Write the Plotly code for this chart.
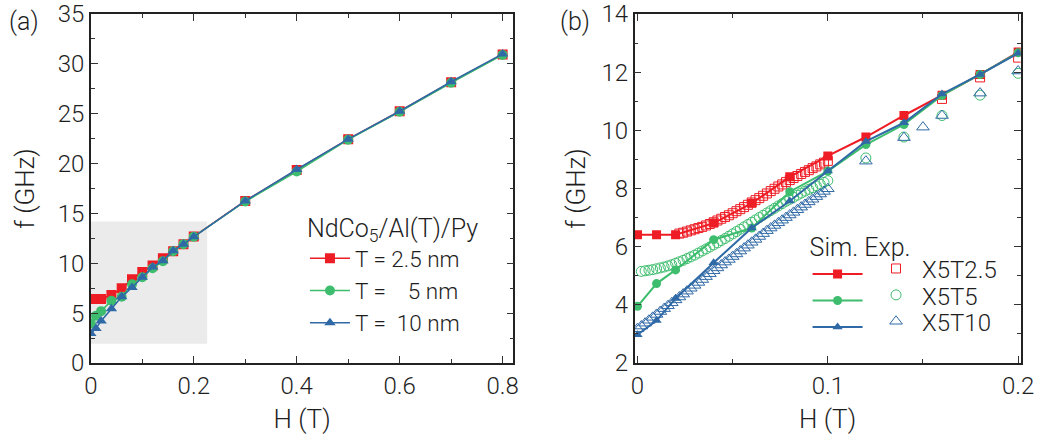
import plotly.graph_objects as go

# ---------------- data ----------------
# simulation (both panels)
H_sim = [0.0, 0.01, 0.02, 0.04, 0.06, 0.08, 0.10, 0.12, 0.14, 0.16, 0.18, 0.20,
         0.3, 0.4, 0.5, 0.6, 0.7, 0.8]
f_sim_T2p5 = [6.41, 6.41, 6.41, 6.81, 7.49, 8.40, 9.12, 9.77, 10.51, 11.21, 11.92, 12.69,
              16.25, 19.35, 22.45, 25.25, 28.15, 30.95]
f_sim_T5 = [3.95, 4.73, 5.20, 6.24, 6.64, 7.89, 8.60, 9.51, 10.20, 11.20, 11.92, 12.67,
            16.20, 19.20, 22.40, 25.20, 28.10, 30.90]
f_sim_T10 = [2.97, 3.46, 4.22, 5.45, 6.64, 7.57, 8.60, 9.62, 10.26, 11.25, 11.92, 12.65,
             16.25, 19.40, 22.45, 25.25, 28.20, 31.00]
N_B = 12  # points shown in panel (b), H <= 0.2 T

# experiment (panel b)
H_exp_T2p5 = [0.022, 0.024, 0.026, 0.028, 0.030, 0.032, 0.034, 0.036, 0.038, 0.040,
              0.042, 0.044, 0.046, 0.048, 0.050, 0.052, 0.054, 0.056, 0.058, 0.060,
              0.062, 0.064, 0.066, 0.068, 0.070, 0.072, 0.074, 0.076, 0.078, 0.080,
              0.082, 0.084, 0.086, 0.088, 0.090, 0.092, 0.094, 0.096, 0.098, 0.100,
              0.16, 0.18, 0.20]
f_exp_T2p5 = [6.45, 6.48, 6.52, 6.56, 6.60, 6.64, 6.68, 6.73, 6.78, 6.84,
              6.90, 6.96, 7.02, 7.08, 7.15, 7.22, 7.29, 7.36, 7.44, 7.52,
              7.60, 7.67, 7.75, 7.83, 7.91, 7.99, 8.07, 8.14, 8.22, 8.29,
              8.36, 8.43, 8.50, 8.57, 8.63, 8.70, 8.76, 8.83, 8.89, 8.95,
              11.08, 11.82, 12.50]

H_exp_T5 = [0.002, 0.004, 0.006, 0.008, 0.010, 0.012, 0.014, 0.016, 0.018, 0.020,
            0.022, 0.024, 0.026, 0.028, 0.030, 0.032, 0.034, 0.036, 0.038, 0.040,
            0.042, 0.044, 0.046, 0.048, 0.050, 0.052, 0.054, 0.056, 0.058, 0.060,
            0.062, 0.064, 0.066, 0.068, 0.070, 0.072, 0.074, 0.076, 0.078, 0.080,
            0.082, 0.084, 0.086, 0.088, 0.090, 0.092, 0.094, 0.096, 0.098, 0.100,
            0.12, 0.14, 0.16, 0.18, 0.20]
f_exp_T5 = [5.15, 5.17, 5.19, 5.21, 5.24, 5.27, 5.30, 5.34, 5.38, 5.43,
            5.48, 5.53, 5.59, 5.65, 5.71, 5.78, 5.85, 5.92, 5.99, 6.06,
            6.13, 6.21, 6.28, 6.36, 6.44, 6.52, 6.60, 6.68, 6.76, 6.84,
            6.92, 7.00, 7.08, 7.16, 7.24, 7.32, 7.40, 7.48, 7.56, 7.63,
            7.70, 7.77, 7.84, 7.91, 7.97, 8.03, 8.09, 8.15, 8.21, 8.27,
            9.05, 9.77, 10.51, 11.21, 11.96]

H_exp_T10 = [0.000, 0.002, 0.004, 0.006, 0.008, 0.010, 0.012, 0.014, 0.016, 0.018,
             0.020, 0.022, 0.024, 0.026, 0.028, 0.030, 0.032, 0.034, 0.036, 0.038,
             0.040, 0.042, 0.044, 0.046, 0.048, 0.050, 0.052, 0.054, 0.056, 0.058,
             0.060, 0.062, 0.064, 0.066, 0.068, 0.070, 0.072, 0.074, 0.076, 0.078,
             0.080, 0.082, 0.084, 0.086, 0.088, 0.090, 0.092, 0.094, 0.096, 0.098,
             0.100, 0.12, 0.14, 0.15, 0.16, 0.18, 0.20]
f_exp_T10 = [3.18, 3.27, 3.37, 3.47, 3.57, 3.67, 3.77, 3.87, 3.97, 4.07,
             4.17, 4.27, 4.37, 4.47, 4.57, 4.67, 4.77, 4.87, 4.97, 5.07,
             5.17, 5.27, 5.37, 5.47, 5.56, 5.66, 5.75, 5.85, 5.95, 6.05,
             6.15, 6.25, 6.35, 6.45, 6.55, 6.64, 6.73, 6.82, 6.91, 7.00,
             7.09, 7.18, 7.27, 7.36, 7.45, 7.54, 7.63, 7.72, 7.81, 7.90,
             7.99, 8.94, 9.75, 10.11, 10.51, 11.28, 12.04]

legend_a_names = ["T = 2.5 nm", "T =\u00a0\u00a0\u00a0\u00a05 nm", "T =\u00a0\u00a010 nm"]
legend_b_names = ["X5T2.5", "X5T5", "X5T10"]
legend_b_rows = [0.266, 0.190, 0.116]   # paper y of the label rows in panel (b)

# highlighted region in panel (a)
box_H = [0.0, 0.226]
box_f = [1.93, 14.2]

# ---------------- style ----------------
RED = "#ee1c24"
GREEN = "#3dbd6d"
BLUE = "#2f69a6"
FONT = "Roboto, 'Liberation Sans', Arial, sans-serif"
TXT = "#1e1e1e"

fig = go.Figure()

sim_sets = [(f_sim_T2p5, RED, "square"), (f_sim_T5, GREEN, "circle"), (f_sim_T10, BLUE, "triangle-up")]
for (fv, col, sym), nm in zip(sim_sets, legend_a_names):
    fig.add_trace(go.Scatter(
        x=H_sim, y=fv, mode="lines+markers", name=nm,
        line=dict(color=col, width=1.6),
        marker=dict(symbol=sym, size=10, color=col),
        xaxis="x", yaxis="y", legend="legend"))

exp_sets = [(H_exp_T2p5, f_exp_T2p5, RED, "square-open", 9),
            (H_exp_T5, f_exp_T5, GREEN, "circle-open", 10),
            (H_exp_T10, f_exp_T10, BLUE, "triangle-up-open", 11)]
for hv, fv, col, sym, sz in exp_sets:
    fig.add_trace(go.Scatter(
        x=hv, y=fv, mode="markers", name="",
        marker=dict(symbol=sym, size=sz, color=col, line=dict(width=1, color=col)),
        xaxis="x2", yaxis="y2", legend="legend3"))

for fv, col, sym in sim_sets:
    fig.add_trace(go.Scatter(
        x=H_sim[:N_B], y=fv[:N_B], mode="lines+markers", name="",
        line=dict(color=col, width=2),
        marker=dict(symbol=sym, size=9, color=col),
        xaxis="x2", yaxis="y2", legend="legend2"))

fig.add_shape(type="rect", xref="x", yref="y", x0=box_H[0], x1=box_H[1], y0=box_f[0], y1=box_f[1],
              fillcolor="#ebebeb", line=dict(width=0), layer="below")

def ax(domain, rng, dtick, mdtick, title, anchor, standoff):
    return dict(domain=domain, range=rng, dtick=dtick, tick0=0, anchor=anchor,
                showline=True, linecolor="#222", linewidth=1.5, mirror="allticks",
                ticks="inside", ticklen=7, tickwidth=1.2, tickcolor="#333",
                minor=dict(dtick=mdtick, ticks="inside", ticklen=4, tickwidth=1.2, tickcolor="#333"),
                showgrid=False, zeroline=False, ticklabeloverflow="allow",
                tickfont=dict(family=FONT, size=24, color=TXT, weight=300),
                title=dict(text=title, font=dict(family=FONT, size=26, color=TXT, weight=300), standoff=standoff))

fig.update_layout(
    width=1052, height=437,
    margin=dict(l=0, r=0, t=11, b=74),
    paper_bgcolor="white", plot_bgcolor="white",
    xaxis=ax([0.0813, 0.4912], [0, 0.821], 0.2, 0.1, "H (T)", "y", 11),
    yaxis=ax([0, 1], [0, 35], 5, 2.5, "f (GHz)", "x", 16),
    xaxis2=ax([0.6087, 0.9832], [-0.00155, 0.20134], 0.1, 0.05, "H (T)", "y2", 11),
    yaxis2=ax([0, 1], [2, 14], 2, 1, "f (GHz)", "x2", 8),
    legend=dict(x=0.289, y=0.454, xanchor="left", yanchor="top", bgcolor="rgba(0,0,0,0)",
                itemwidth=40, font=dict(family=FONT, size=22.5, color=TXT, weight=300),
                title=dict(text="NdCo<sub>5</sub>/Al(T)/Py", font=dict(family=FONT, size=25, color=TXT, weight=300)),
                tracegroupgap=0),
    legend2=dict(x=0.7765, y=0.40, xanchor="left", yanchor="top", bgcolor="rgba(0,0,0,0)",
                 itemwidth=50, font=dict(family=FONT, size=18, color=TXT, weight=300),
                 title=dict(text="Sim.\u00a0Exp.", font=dict(family=FONT, size=25, color=TXT, weight=300))),
    legend3=dict(x=0.8429, y=0.323, xanchor="left", yanchor="top", bgcolor="rgba(0,0,0,0)",
                 itemwidth=30, font=dict(family=FONT, size=18, color=TXT, weight=300)),
    annotations=[
        dict(text="(a)", x=0.0, y=1.0256, xref="paper", yref="paper", xanchor="left", yanchor="top",
             showarrow=False, font=dict(family=FONT, size=25, color=TXT, weight=300)),
        dict(text="(b)", x=0.534, y=1.0256, xref="paper", yref="paper", xanchor="left", yanchor="top",
             showarrow=False, font=dict(family=FONT, size=25, color=TXT, weight=300)),
    ] + [
        dict(text=nm, x=0.886, y=yy, xref="paper", yref="paper", xanchor="left", yanchor="middle",
             showarrow=False, font=dict(family=FONT, size=24, color=TXT, weight=300))
        for nm, yy in zip(legend_b_names, legend_b_rows)
    ],
)

fig.write_html("out.html")
